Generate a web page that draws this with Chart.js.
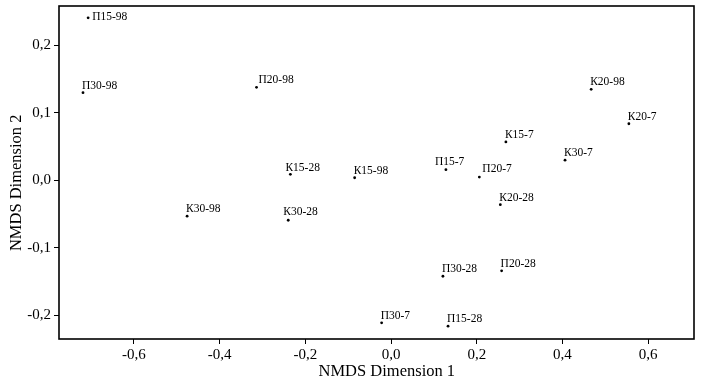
<!DOCTYPE html>
<html>
<head>
<meta charset="utf-8">
<script src="https://cdn.jsdelivr.net/npm/chart.js@4/dist/chart.umd.min.js"></script>
<style>
  html, body { margin: 0; padding: 0; background: #fff; }
  #wrap { width: 703px; height: 384px; }
</style>
</head>
<body>
<div id="wrap"><canvas id="nmds"></canvas></div>
<script>
// NMDS ordination - samples
const sampleNames = ['П15-98', 'П30-98', 'П20-98', 'К15-28', 'К15-98', 'П15-7', 'П20-7', 'К15-7', 'К30-7',
    'К20-98', 'К20-7', 'К20-28', 'П30-28', 'П20-28', 'П30-7', 'П15-28', 'К30-98', 'К30-28'];
const dim1 = [-0.707, -0.719, -0.314, -0.235, -0.085, 0.128, 0.206, 0.268, 0.406,
    0.467, 0.555, 0.255, 0.121, 0.258, -0.022, 0.133, -0.476, -0.240];
const dim2 = [0.241, 0.130, 0.138, 0.009, 0.004, 0.016, 0.005, 0.057, 0.030,
    0.135, 0.084, -0.036, -0.142, -0.134, -0.211, -0.216, -0.053, -0.059];

const SERIF = '"Liberation Serif", "Times New Roman", serif';

// label placement tweaks (px) relative to the dot
const labelNudge = {
    'П15-98': [4, -1],
    'П15-7': [-11, -8],
    'К15-28': [-5, -6],
    'К30-28': [-5, -8],
    'П20-98': [2, -7],
    'П20-7': [3, -8]
};

const pointLabels = {
    id: 'pointLabels',
    afterDatasetsDraw(chart) {
        const ctx = chart.ctx;
        const meta = chart.getDatasetMeta(0);
        ctx.save();
        ctx.font = '11.5px ' + SERIF;
        ctx.fillStyle = '#000';
        ctx.textAlign = 'left';
        ctx.textBaseline = 'middle';
        meta.data.forEach((pt, i) => {
            const name = sampleNames[i];
            const n = labelNudge[name] || [-1, -7];
            ctx.fillText(name, pt.x + n[0], pt.y + n[1]);
        });
        ctx.restore();
    }
};

const frame = {
    id: 'frame',
    afterDraw(chart) {
        const a = chart.chartArea;
        const ctx = chart.ctx;
        ctx.save();
        ctx.strokeStyle = '#000';
        ctx.lineWidth = 1.6;
        ctx.strokeRect(a.left, a.top, a.right - a.left, a.bottom - a.top);
        ctx.restore();
    }
};

const fmt = v => v.toFixed(1).replace('.', ',');

new Chart(document.getElementById('nmds'), {
    type: 'scatter',
    data: {
        datasets: [{
            data: dim1.map((x, i) => ({ x: x, y: dim2[i] })),
            backgroundColor: '#000',
            borderColor: '#000',
            pointRadius: 1.4,
            borderWidth: 0
        }]
    },
    options: {
        responsive: true,
        maintainAspectRatio: false,
        animation: false,
        layout: { padding: { top: 6, right: 9 } },
        plugins: {
            legend: { display: false },
            tooltip: { enabled: false }
        },
        scales: {
            x: {
                type: 'linear',
                min: -0.775,
                max: 0.707,
                border: { display: false },
                grid: { display: true, drawOnChartArea: false, drawTicks: true, tickLength: 5, color: '#000' },
                ticks: {
                    stepSize: 0.2,
                    includeBounds: false,
                    padding: 2,
                    color: '#000',
                    font: { family: SERIF, size: 15 },
                    callback: fmt
                },
                title: {
                    display: true,
                    text: '     NMDS Dimension 1',
                    color: '#000',
                    font: { family: SERIF, size: 16.5 },
                    padding: { top: 0, bottom: 2 }
                },
                afterFit(scale) {
                    scale.height = 45;
                    scale.paddingLeft = 0;
                    scale.paddingRight = 0;
                }
            },
            y: {
                type: 'linear',
                min: -0.235,
                max: 0.2585,
                border: { display: false },
                grid: { display: true, drawOnChartArea: false, drawTicks: true, tickLength: 5, color: '#000' },
                ticks: {
                    stepSize: 0.1,
                    includeBounds: false,
                    padding: 3,
                    color: '#000',
                    font: { family: SERIF, size: 15 },
                    callback: fmt
                },
                title: {
                    display: true,
                    text: 'NMDS Dimension 2     ',
                    color: '#000',
                    font: { family: SERIF, size: 16.5 },
                    padding: { top: 7, bottom: 0 }
                },
                afterFit(scale) {
                    scale.width = 59;
                    scale.paddingTop = 0;
                    scale.paddingBottom = 0;
                }
            }
        }
    },
    plugins: [pointLabels, frame]
});
</script>
</body>
</html>
